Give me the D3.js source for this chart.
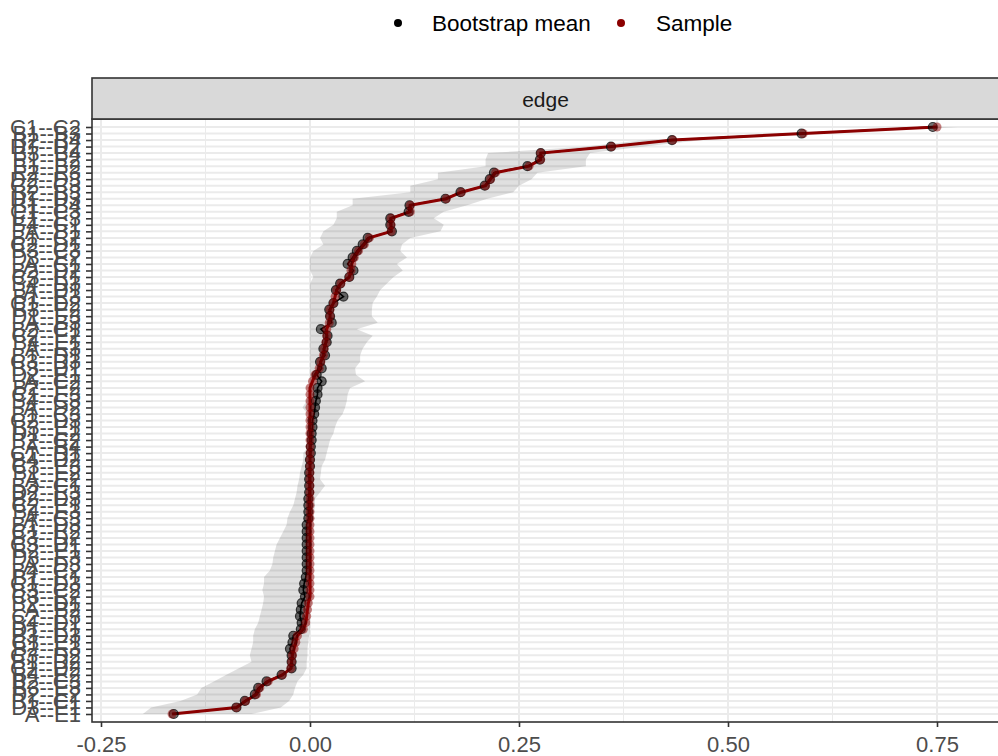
<!DOCTYPE html>
<html>
<head>
<meta charset="utf-8">
<script src="https://cdn.jsdelivr.net/npm/d3@7"></script>
<style>
  body { margin: 0; background: #fff; }
  svg { display: block; font-family: "Liberation Sans", Arial, sans-serif; }
</style>
</head>
<body>
<script>
// edges, top to bottom (sorted by sample value)
const edges = [
  'C1--C2', 'B1--B3', 'B2--B4', 'D1--D2', 'B3--B4', 'E1--E2', 'B1--B2', 'E2--E3', 'D2--D3', 'C2--C3',
  'B2--B3', 'D1--D3', 'B1--B4', 'C1--C3', 'E1--E3', 'B4--C1', 'A--B1', 'B1--C2', 'C2--D1', 'B3--C3',
  'D3--E2', 'A--C1', 'B2--D2', 'C3--E1', 'B4--D3', 'A--D1', 'B1--E3', 'C1--D2', 'B3--E2', 'D1--E3',
  'A--B3', 'B2--C1', 'C2--E2', 'B4--E1', 'A--E3', 'B1--D1', 'C3--D3', 'B3--D1', 'D2--E1', 'A--C2',
  'B2--E2', 'C1--E3', 'B4--C3', 'A--D2', 'B1--C3', 'C2--D3', 'B3--E1', 'D1--E2', 'B2--C2', 'A--B4',
  'C1--D1', 'B4--D2', 'C3--E3', 'B1--E2', 'A--E2', 'B3--C1', 'D2--E3', 'B2--D3', 'C2--E1', 'B4--E3',
  'A--C3', 'B1--D3', 'C1--E2', 'B3--D2', 'C3--D1', 'B2--E1', 'D3--E3', 'A--D3', 'B4--C2', 'B1--E1',
  'C1--D3', 'B3--C2', 'C3--E2', 'B2--D1', 'A--B2', 'C2--E3', 'B4--D1', 'D1--E1', 'B3--D3', 'C1--E1',
  'B2--E3', 'C3--D2', 'B1--D2', 'C2--D2', 'B4--E2', 'B2--C3', 'B3--E3', 'D2--E2', 'B1--C1', 'D3--E1',
  'A--E1'
];

const sampleVals = [
  0.750, 0.590, 0.434, 0.361, 0.276, 0.276, 0.262, 0.222, 0.216, 0.210,
  0.181, 0.163, 0.120, 0.120, 0.097, 0.097, 0.097, 0.071, 0.065, 0.058,
  0.053, 0.050, 0.049, 0.047, 0.037, 0.032, 0.030, 0.028, 0.024, 0.024,
  0.023, 0.020, 0.020, 0.019, 0.017, 0.016, 0.013, 0.011, 0.006, 0.003,
  0.000, 0.000, 0.000, 0.000, 0.000, 0.000, 0.000, 0.000, 0.000, 0.000,
  0.000, 0.000, 0.000, 0.000, 0.000, 0.000, 0.000, 0.000, 0.000, 0.000,
  0.000, 0.000, 0.000, 0.000, 0.000, 0.000, 0.000, 0.000, 0.000, 0.000,
  0.000, 0.000, 0.000, -0.002, -0.003, -0.004, -0.005, -0.008, -0.015, -0.017,
  -0.019, -0.021, -0.022, -0.023, -0.033, -0.050, -0.060, -0.064, -0.077, -0.088,
  -0.165
];

const bootMeans = [
  0.745, 0.588, 0.433, 0.360, 0.276, 0.275, 0.260, 0.220, 0.215, 0.209,
  0.180, 0.162, 0.119, 0.118, 0.096, 0.096, 0.098, 0.069, 0.063, 0.056,
  0.051, 0.045, 0.052, 0.047, 0.036, 0.031, 0.040, 0.028, 0.023, 0.024,
  0.026, 0.013, 0.021, 0.020, 0.016, 0.018, 0.012, 0.014, 0.008, 0.014,
  0.009, 0.009, 0.007, 0.006, 0.005, 0.003, 0.003, 0.002, 0.002, 0.001,
  0.001, 0.000, 0.000, -0.001, -0.001, -0.001, -0.001, -0.002, -0.002, -0.002,
  -0.002, -0.004, -0.004, -0.004, -0.004, -0.004, -0.004, -0.004, -0.004, -0.005,
  -0.007, -0.008, -0.006, -0.010, -0.011, -0.012, -0.010, -0.011, -0.020, -0.021,
  -0.024, -0.022, -0.022, -0.022, -0.034, -0.052, -0.062, -0.066, -0.078, -0.088,
  -0.163
];

const ciLower = [
  0.725, 0.560, 0.400, 0.330, 0.213, 0.210, 0.210, 0.153, 0.153, 0.120,
  0.120, 0.051, 0.051, 0.032, 0.032, 0.028, 0.016, 0.012, 0.016, 0.004,
  0.000, 0.000, 0.000, 0.004, 0.000, 0.000, 0.000, 0.000, 0.000, 0.000,
  0.000, 0.000, 0.000, 0.000, 0.000, 0.000, 0.000, 0.000, 0.000, 0.000,
  0.000, -0.002, -0.004, -0.009, -0.003, 0.000, 0.000, 0.000, 0.000, -0.002,
  -0.008, -0.008, -0.010, -0.012, -0.013, -0.015, -0.016, -0.018, -0.020, -0.024,
  -0.027, -0.028, -0.032, -0.036, -0.040, -0.042, -0.044, -0.045, -0.048, -0.055,
  -0.055, -0.057, -0.055, -0.056, -0.058, -0.060, -0.062, -0.066, -0.068, -0.068,
  -0.070, -0.072, -0.070, -0.085, -0.100, -0.115, -0.130, -0.135, -0.155, -0.190,
  -0.200
];

const ciUpper = [
  0.775, 0.620, 0.470, 0.400, 0.335, 0.330, 0.330, 0.272, 0.265, 0.250,
  0.243, 0.212, 0.188, 0.160, 0.148, 0.160, 0.156, 0.120, 0.110, 0.108,
  0.116, 0.104, 0.111, 0.100, 0.092, 0.084, 0.080, 0.075, 0.074, 0.074,
  0.081, 0.056, 0.075, 0.068, 0.063, 0.060, 0.060, 0.054, 0.055, 0.066,
  0.048, 0.045, 0.044, 0.042, 0.039, 0.033, 0.030, 0.028, 0.024, 0.022,
  0.020, 0.018, 0.014, 0.013, 0.012, 0.018, 0.012, 0.006, 0.006, 0.005,
  0.004, 0.004, 0.004, 0.003, 0.003, 0.003, 0.003, 0.002, 0.003, 0.002,
  0.003, 0.002, 0.003, 0.002, 0.000, 0.000, 0.000, 0.000, -0.001, -0.002,
  -0.003, -0.003, -0.004, -0.004, -0.008, -0.015, -0.018, -0.020, -0.025, -0.035,
  -0.070
];

const xTicks = [-0.25, 0, 0.25, 0.5, 0.75];
const legendItems = ['Bootstrap mean', 'Sample'];
const stripLabel = 'edge';

const w = 998;
const h = 756;
const panel = { left: 92, right: 999, top: 119, bottom: 722 };
const colors = { 'Bootstrap mean': '#000000', 'Sample': '#8B0000' };

const rows = edges.map((e, i) => ({
  edge: e, sample: sampleVals[i], mean: bootMeans[i], lower: ciLower[i], upper: ciUpper[i]
}));

//scales
const x = d3.scaleLinear().domain([-0.25, 0.75]).range([101, 937]);
const y = d3.scalePoint().domain(edges).range([127, 714]);

const svg = d3.select('body')
  .append('svg')
  .attr('width', w)
  .attr('height', h);

svg.append('defs').append('clipPath')
  .attr('id', 'panel-clip')
  .append('rect')
  .attr('x', panel.left).attr('y', panel.top)
  .attr('width', panel.right - panel.left).attr('height', panel.bottom - panel.top);

//grid lines
const grid = svg.append('g').attr('clip-path', 'url(#panel-clip)');
const minorTicks = d3.range(-0.375, 1.0, 0.25);
grid.selectAll('.minor')
  .data(minorTicks)
  .enter().append('line')
  .attr('x1', (d) => x(d)).attr('x2', (d) => x(d))
  .attr('y1', panel.top).attr('y2', panel.bottom)
  .attr('stroke', '#ebebeb').attr('stroke-width', 1);
grid.selectAll('.hgrid')
  .data(edges)
  .enter().append('line')
  .attr('x1', panel.left).attr('x2', panel.right)
  .attr('y1', (d) => y(d)).attr('y2', (d) => y(d))
  .attr('stroke', '#ebebeb').attr('stroke-width', 2);
grid.selectAll('.major')
  .data(xTicks)
  .enter().append('line')
  .attr('x1', (d) => x(d)).attr('x2', (d) => x(d))
  .attr('y1', panel.top).attr('y2', panel.bottom)
  .attr('stroke', '#ebebeb').attr('stroke-width', 2);

const plot = svg.append('g').attr('clip-path', 'url(#panel-clip)');

//bootstrap CI area
const area = d3.area()
  .y((d) => y(d.edge))
  .x0((d) => x(d.lower))
  .x1((d) => x(d.upper));
plot.append('path')
  .datum(rows)
  .attr('d', area)
  .attr('fill', '#000')
  .attr('fill-opacity', 0.12);

//lines: bootstrap mean first, then sample
const meanLine = d3.line().x((d) => x(d.mean)).y((d) => y(d.edge));
const sampleLine = d3.line().x((d) => x(d.sample)).y((d) => y(d.edge));
plot.append('path')
  .datum(rows)
  .attr('d', meanLine)
  .attr('fill', 'none')
  .attr('stroke', colors['Bootstrap mean'])
  .attr('stroke-width', 1.6);
plot.append('path')
  .datum(rows)
  .attr('d', sampleLine)
  .attr('fill', 'none')
  .attr('stroke', colors['Sample'])
  .attr('stroke-width', 3);

//points
plot.selectAll('.mean-pt')
  .data(rows)
  .enter().append('circle')
  .attr('cx', (d) => x(d.mean))
  .attr('cy', (d) => y(d.edge))
  .attr('r', 4.5)
  .attr('fill', colors['Bootstrap mean'])
  .attr('fill-opacity', 0.55)
  .attr('stroke', colors['Bootstrap mean'])
  .attr('stroke-opacity', 0.7)
  .attr('stroke-width', 1.2);
plot.selectAll('.sample-pt')
  .data(rows)
  .enter().append('circle')
  .attr('cx', (d) => x(d.sample))
  .attr('cy', (d) => y(d.edge))
  .attr('r', 4.5)
  .attr('fill', colors['Sample'])
  .attr('fill-opacity', 0.5);

//panel border
svg.append('rect')
  .attr('x', panel.left).attr('y', panel.top)
  .attr('width', panel.right - panel.left).attr('height', panel.bottom - panel.top)
  .attr('fill', 'none')
  .attr('stroke', '#333')
  .attr('stroke-width', 1.6);

//facet strip
svg.append('rect')
  .attr('x', panel.left).attr('y', 78)
  .attr('width', panel.right - panel.left).attr('height', panel.top - 78)
  .attr('fill', '#d9d9d9')
  .attr('stroke', '#333')
  .attr('stroke-width', 1.6);
svg.append('text')
  .attr('x', (panel.left + panel.right) / 2)
  .attr('y', 107)
  .attr('text-anchor', 'middle')
  .style('font-size', '21px')
  .attr('fill', '#1a1a1a')
  .text(stripLabel);

//axes
const xAxis = d3.axisBottom(x)
  .tickValues(xTicks)
  .tickFormat((d) => d.toFixed(2))
  .tickSize(5)
  .tickPadding(9);
const gx = svg.append('g')
  .attr('transform', `translate(0, ${panel.bottom})`)
  .call(xAxis);
gx.select('.domain').remove();
gx.selectAll('line').attr('stroke', '#333').attr('stroke-width', 1.6);
gx.selectAll('text').style('font-size', '22px').attr('fill', '#4d4d4d');

const yAxis = d3.axisLeft(y).tickSize(6).tickPadding(5);
const gy = svg.append('g')
  .attr('transform', `translate(${panel.left}, 0)`)
  .call(yAxis);
gy.select('.domain').remove();
gy.selectAll('line').attr('stroke', '#333').attr('stroke-width', 1.6);
gy.selectAll('text').style('font-size', '22px').attr('fill', '#4d4d4d');

//legend on top
const legendPos = [{ dot: 398, text: 432 }, { dot: 621, text: 656 }];
const legend = svg.append('g');
legendItems.forEach((name, i) => {
  legend.append('circle')
    .attr('cx', legendPos[i].dot).attr('cy', 23)
    .attr('r', 4)
    .attr('fill', colors[name]);
  legend.append('text')
    .attr('x', legendPos[i].text).attr('y', 31)
    .style('font-size', '22.5px')
    .attr('fill', '#000')
    .text(name);
});
</script>
</body>
</html>
